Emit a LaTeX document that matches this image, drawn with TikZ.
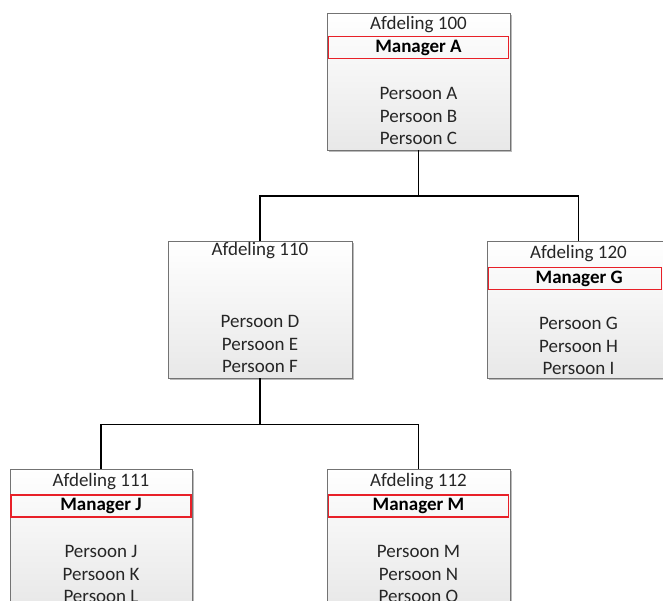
\documentclass[tikz,border=0pt]{standalone}
\usepackage{fontspec}
\setmainfont{Carlito}
\usetikzlibrary{shadows,calc}
\definecolor{mgrred}{RGB}{232,32,40}
\tikzset{
  x=1pt, y=-1pt,
  orgbox/.style={rectangle, draw=black!55, line width=0.9pt, top color=white, bottom color=black!9,
    minimum width=183pt, minimum height=137pt, inner sep=0pt,
    drop shadow={shadow xshift=2pt, shadow yshift=-2pt, fill=black!45, opacity=.6}},
  mgrbox/.style={rectangle, draw=mgrred, line width=1.3pt,
    minimum width=180pt, minimum height=22pt, inner sep=0pt, font=\fontsize{19}{23}\selectfont\bfseries},
  txt/.style={inner sep=0pt, anchor=base, font=\fontsize{19}{23}\selectfont, text=black!85},
  conn/.style={draw=black, line width=1.4pt}
}
\begin{document}
\begin{tikzpicture}
\clip (0,0) rectangle (663,601);
\fill[white] (0,0) rectangle (663,601);
% boxes
\node[orgbox] (A) at (418.5,81.5) {};
\node[orgbox, minimum width=184pt] (B) at (260,309.5) {};
\node[orgbox] (C) at (578.5,309.5) {};
\node[orgbox, minimum width=182pt] (D) at (101,537.5) {};
\node[orgbox] (E) at (418.5,537.5) {};
% connectors
\draw[conn] (A.south) -- ++(0,45.5) -| (B.north);
\draw[conn] (A.south) -- ++(0,45.5) -| (C.north);
\draw[conn] (B.south) -- ++(0,46) -| (D.north);
\draw[conn] (B.south) -- ++(0,46) -| (E.north);
% box A
\node[txt] (A-h) at ($(A.north)+(0,16.5)$) {Afdeling 100};
\node[mgrbox] (A-m) at ($(A.north)+(0,35)$) {Manager A};
\node[txt] (A-p1) at ($(A.north)+(0,87)$) {Persoon A};
\node[txt] (A-p2) at ($(A.north)+(0,109.5)$) {Persoon B};
\node[txt] (A-p3) at ($(A.north)+(0,132)$) {Persoon C};
% box B
\node[txt] (B-h) at ($(B.north)+(0,14.5)$) {Afdeling 110};
\node[txt] (B-p1) at ($(B.north)+(0,87)$) {Persoon D};
\node[txt] (B-p2) at ($(B.north)+(0,109.5)$) {Persoon E};
\node[txt] (B-p3) at ($(B.north)+(0,132)$) {Persoon F};
% box C
\node[txt] (C-h) at ($(C.north)+(0,17.5)$) {Afdeling 120};
\node[mgrbox, minimum width=173pt, anchor=west] (C-m) at ($(C.north west)+(1.5,38)$) {\hspace*{8pt}Manager G};
\node[txt] (C-p1) at ($(C.north)+(0,89)$) {Persoon G};
\node[txt] (C-p2) at ($(C.north)+(0,111.5)$) {Persoon H};
\node[txt] (C-p3) at ($(C.north)+(0,134)$) {Persoon I};
% box D
\node[txt] (D-h) at ($(D.north)+(0,17.5)$) {Afdeling 111};
\node[mgrbox] (D-m) at ($(D.north)+(0,37.5)$) {Manager J};
\node[txt] (D-p1) at ($(D.north)+(0,89)$) {Persoon J};
\node[txt] (D-p2) at ($(D.north)+(0,111.5)$) {Persoon K};
\node[txt] (D-p3) at ($(D.north)+(0,134)$) {Persoon L};
% box E
\node[txt] (E-h) at ($(E.north)+(0,17.5)$) {Afdeling 112};
\node[mgrbox] (E-m) at ($(E.north)+(0,37.5)$) {Manager M};
\node[txt] (E-p1) at ($(E.north)+(0,89)$) {Persoon M};
\node[txt] (E-p2) at ($(E.north)+(0,111.5)$) {Persoon N};
\node[txt] (E-p3) at ($(E.north)+(0,134)$) {Persoon O};
\end{tikzpicture}
\end{document}
